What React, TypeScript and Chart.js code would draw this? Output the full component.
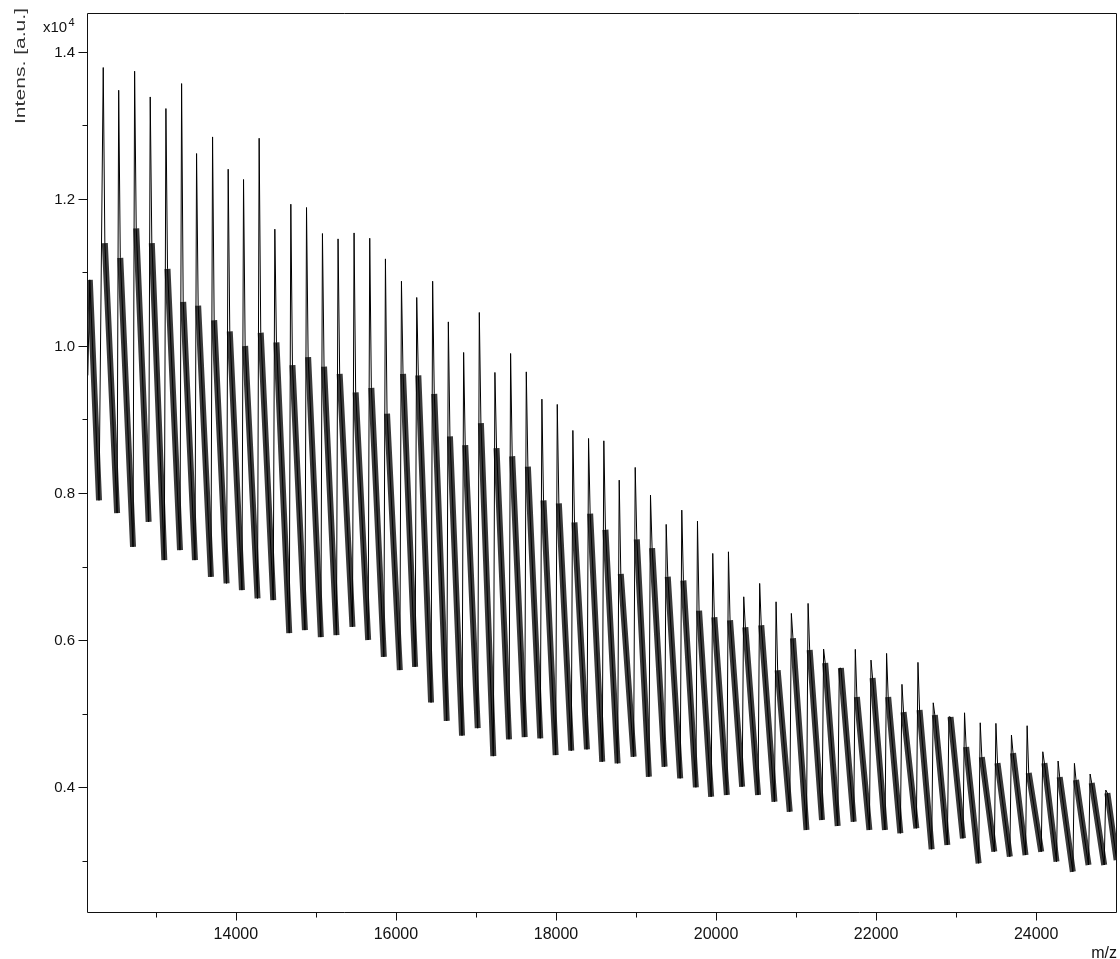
import React, { useEffect, useRef } from "react";
import { Chart, registerables } from "chart.js";

Chart.register(...registerables);

// ---- axis ranges (m/z, raw intensity in a.u.) ----
const X_MIN = 12140;
const X_MAX = 25010;
const Y_MIN = 2300;
const Y_MAX = 14530;

// ---- tick values ----
const xMajorTicks = [14000, 16000, 18000, 20000, 22000, 24000];
const xMinorTicks = [13000, 15000, 17000, 19000, 21000, 23000];
const yMajorTicks = [4000, 6000, 8000, 10000, 12000, 14000];
const yMinorTicks = [3000, 5000, 7000, 9000, 11000, 13000];
const yTickLabels = ["0.4", "0.6", "0.8", "1.0", "1.2", "1.4"];

// ---- leading part of the spectrum (before first resolved peak) ----
const leadMz = [12150, 12175, 12290];
const leadVal = [9600, 10900, 7900];

// ---- resolved peak series ----
const peakMz = [12343, 12536, 12735, 12930, 13126, 13322, 13509, 13709, 13904, 14096, 14291, 14487, 14687, 14883, 15082, 15277, 15477, 15673, 15869, 16069, 16260, 16459, 16655, 16846, 17042, 17237, 17433, 17629, 17824, 18016, 18211, 18407, 18598, 18790, 18990, 19181, 19377, 19572, 19768, 19959, 20155, 20346, 20545, 20750, 20941, 21150, 21344, 21540, 21740, 21936, 22131, 22323, 22523, 22714, 22910, 23105, 23301, 23497, 23691, 23887, 24083, 24274, 24478, 24674, 24870];

const peakTop = [13788, 13479, 13738, 13388, 13230, 13570, 12618, 12844, 12405, 12265, 12826, 11589, 11929, 11884, 11530, 11457, 11538, 11466, 11185, 10881, 10660, 10881, 10328, 9912, 10456, 9640, 9898, 9648, 9277, 9205, 8851, 8742, 8710, 8175, 8348, 7971, 7573, 7767, 7617, 7178, 7200, 6588, 6770, 6520, 6362, 6498, 5877, 5614, 5873, 5727, 5818, 5397, 5696, 5146, 4956, 5010, 4874, 4866, 4707, 4834, 4480, 4354, 4322, 4177, 3959];

// top of the noisy band right after each peak
const bandTop = [11400, 11200, 11600, 11400, 11050, 10600, 10550, 10350, 10200, 10000, 10180, 10050, 9740, 9850, 9720, 9620, 9370, 9430, 9080, 9620, 9600, 9350, 8770, 8650, 8950, 8610, 8500, 8360, 7900, 7860, 7600, 7720, 7500, 6900, 7370, 7250, 6860, 6810, 6400, 6310, 6270, 6175, 6200, 5590, 6025, 5863, 5686, 5618, 5224, 5482, 5224, 5020, 5047, 4979, 4952, 4544, 4408, 4326, 4462, 4190, 4326, 4136, 4095, 4054, 3918];

// lowest value of the band just before the next peak
const trough = [7727, 7268, 7608, 7087, 7223, 7087, 6860, 6770, 6679, 6566, 6543, 6094, 6135, 6040, 6067, 6180, 6000, 5772, 5591, 5636, 5150, 4900, 4700, 4800, 4420, 4650, 4680, 4662, 4435, 4494, 4512, 4344, 4322, 4412, 4140, 4276, 4118, 3996, 3868, 3891, 4004, 3891, 3800, 3664, 3415, 3551, 3470, 3528, 3415, 3415, 3370, 3438, 3153, 3211, 3302, 2962, 3120, 3052, 3075, 3120, 2984, 2848, 2939, 2939, 3007];

const END_MZ = 25005;
const PEAK_HALF = 20;

type P = { x: number; y: number | null };

function buildSpectrum(): P[] {
  const pts: P[] = [];
  for (let i = 0; i < leadMz.length; i++) pts.push({ x: leadMz[i], y: leadVal[i] });
  for (let k = 0; k < peakMz.length; k++) {
    if (k > 0) pts.push({ x: peakMz[k] - PEAK_HALF, y: trough[k - 1] });
    pts.push({ x: peakMz[k], y: peakTop[k] });
    pts.push({ x: peakMz[k] + PEAK_HALF, y: bandTop[k] });
  }
  pts.push({ x: END_MZ, y: trough[trough.length - 1] });
  return pts;
}

function buildBands(): P[] {
  const pts: P[] = [];
  pts.push({ x: leadMz[1], y: leadVal[1] });
  pts.push({ x: leadMz[2], y: leadVal[2] });
  pts.push({ x: leadMz[2] + 1, y: null });
  for (let k = 0; k < peakMz.length; k++) {
    const endX = k < peakMz.length - 1 ? peakMz[k + 1] - PEAK_HALF : END_MZ;
    pts.push({ x: peakMz[k] + PEAK_HALF, y: bandTop[k] });
    pts.push({ x: endX, y: trough[k] });
    pts.push({ x: endX + 1, y: null });
  }
  return pts;
}

const FONT = '"Liberation Sans", Arial, Helvetica, sans-serif';

const decorPlugin = {
  id: "decor",
  afterDraw(chart: any) {
    const { ctx, chartArea: a } = chart;
    const xs = chart.scales.x;
    const ys = chart.scales.y;
    const L = Math.round(a.left) + 0.5;
    const R = Math.round(a.right) - 0.5;
    const T = Math.round(a.top) + 0.5;
    const B = Math.round(a.bottom) + 0.5;
    ctx.save();
    ctx.strokeStyle = "#111";
    ctx.lineWidth = 1;
    // frame
    ctx.beginPath();
    ctx.moveTo(L, T);
    ctx.lineTo(R, T);
    ctx.lineTo(R, B);
    ctx.lineTo(L, B);
    ctx.closePath();
    ctx.stroke();
    // x ticks
    ctx.beginPath();
    xMajorTicks.forEach((v) => {
      const px = Math.round(xs.getPixelForValue(v)) + 0.5;
      ctx.moveTo(px, B);
      ctx.lineTo(px, B + 8);
    });
    xMinorTicks.forEach((v) => {
      const px = Math.round(xs.getPixelForValue(v)) + 0.5;
      ctx.moveTo(px, B);
      ctx.lineTo(px, B + 5);
    });
    // y ticks
    yMajorTicks.forEach((v) => {
      const py = Math.round(ys.getPixelForValue(v)) + 0.5;
      ctx.moveTo(L, py);
      ctx.lineTo(L - 9, py);
    });
    yMinorTicks.forEach((v) => {
      const py = Math.round(ys.getPixelForValue(v)) + 0.5;
      ctx.moveTo(L, py);
      ctx.lineTo(L - 5, py);
    });
    ctx.stroke();

    ctx.fillStyle = "#111";
    // x labels
    ctx.font = `16px ${FONT}`;
    ctx.textAlign = "center";
    ctx.textBaseline = "alphabetic";
    xMajorTicks.forEach((v) => {
      ctx.fillText(String(v), xs.getPixelForValue(v), 938.5);
    });
    // y labels
    ctx.font = `15px ${FONT}`;
    ctx.textAlign = "right";
    ctx.textBaseline = "middle";
    yMajorTicks.forEach((v, i) => {
      ctx.fillText(yTickLabels[i], 75, ys.getPixelForValue(v) + 0.5);
    });
    // x10^4
    ctx.textAlign = "left";
    ctx.textBaseline = "alphabetic";
    ctx.font = `15px ${FONT}`;
    ctx.fillText("x10", 43, 32);
    ctx.font = `11px ${FONT}`;
    ctx.fillText("4", 68.5, 26);
    // m/z
    ctx.font = `16px ${FONT}`;
    ctx.textAlign = "right";
    ctx.fillText("m/z", 1117, 958);
    // y title rotated
    ctx.save();
    ctx.translate(25, 66);
    ctx.rotate(-Math.PI / 2);
    ctx.fillStyle = "#333";
    ctx.font = `15px ${FONT}`;
    ctx.textAlign = "center";
    ctx.textBaseline = "alphabetic";
    const label = "Intens. [a.u.]";
    const w = ctx.measureText(label).width;
    ctx.scale(116 / w, 1);
    ctx.fillText(label, 0, 0);
    ctx.restore();
    ctx.restore();
  },
};

export default function App() {
  const ref = useRef<HTMLCanvasElement | null>(null);
  useEffect(() => {
    if (!ref.current) return;
    const chart = new Chart(ref.current, {
      type: "line",
      data: {
        datasets: [
          {
            data: buildSpectrum() as any,
            borderColor: "#000",
            borderWidth: 1,
            pointRadius: 0,
            tension: 0,
            spanGaps: false,
          },
          {
            data: buildBands() as any,
            borderColor: "#3a3a3a",
            borderWidth: 6,
            pointRadius: 0,
            tension: 0,
            spanGaps: false,
          },
        ],
      },
      options: {
        animation: false,
        responsive: false,
        maintainAspectRatio: false,
        parsing: false,
        normalized: true,
        layout: { padding: { left: 0, right: 3, top: 13, bottom: 0 } },
        plugins: { legend: { display: false }, tooltip: { enabled: false } },
        scales: {
          x: {
            type: "linear",
            min: X_MIN,
            max: X_MAX,
            grid: { display: false, drawTicks: false },
            border: { display: false },
            ticks: { display: false },
            afterFit: (s: any) => {
              s.height = 47;
            },
          },
          y: {
            type: "linear",
            min: Y_MIN,
            max: Y_MAX,
            grid: { display: false, drawTicks: false },
            border: { display: false },
            ticks: { display: false },
            afterFit: (s: any) => {
              s.width = 87;
            },
          },
        },
      } as any,
      plugins: [decorPlugin],
    });
    return () => chart.destroy();
  }, []);
  return (
    <div style={{ position: "fixed", left: 0, top: 0, width: 1120, height: 959, background: "#fff" }}>
      <canvas ref={ref} width={1120} height={959} style={{ display: "block" }} />
    </div>
  );
}
